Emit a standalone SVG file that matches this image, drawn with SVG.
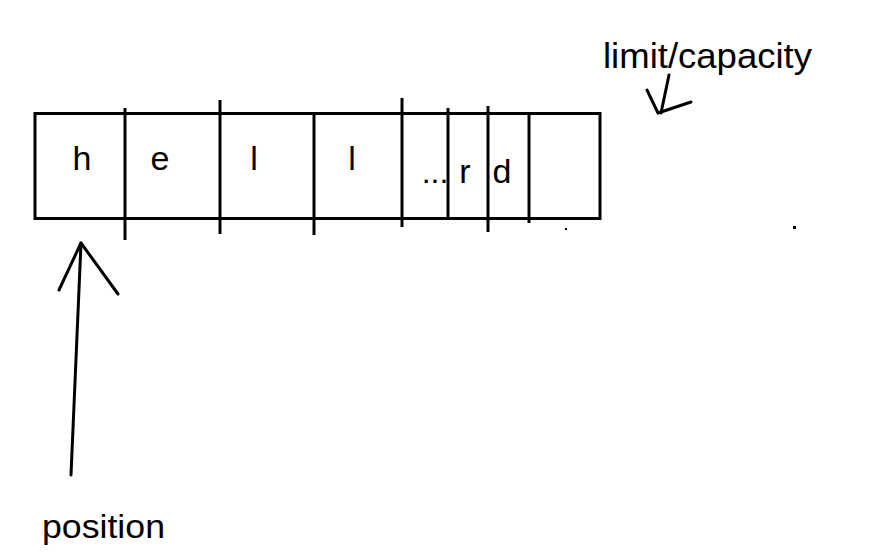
<svg xmlns="http://www.w3.org/2000/svg" width="870" height="554" viewBox="0 0 870 554">
<style>
.ln{stroke:#000;stroke-width:3;fill:none;stroke-linecap:butt}
.ar{stroke:#000;stroke-width:3;fill:none;stroke-linecap:round;stroke-linejoin:round}
.t{font-family:"Liberation Sans","DejaVu Sans",sans-serif;fill:#000}
</style>
<rect width="870" height="554" fill="#fff"/>
<g id="buffer">
<rect class="ln" x="35" y="113.5" width="565" height="105"/>
<line class="ln" x1="125" y1="108" x2="125" y2="240"/>
<line class="ln" x1="220" y1="100" x2="220" y2="234"/>
<line class="ln" x1="314" y1="113" x2="314" y2="235"/>
<line class="ln" x1="402" y1="98" x2="402" y2="227"/>
<line class="ln" x1="448" y1="108" x2="448" y2="218"/>
<line class="ln" x1="488" y1="106" x2="488" y2="232"/>
<line class="ln" x1="529" y1="113" x2="529" y2="223"/>
<rect x="565" y="228" width="2" height="2" fill="#000"/>
<rect x="793" y="226" width="3" height="3" fill="#000"/>
</g>
<g id="cells" class="t" font-size="34" text-anchor="middle">
<text x="82" y="170">h</text>
<text x="160" y="170">e</text>
<text x="254" y="170">l</text>
<text x="352" y="170">l</text>
<text x="435" y="183" font-size="32">...</text>
<text x="465" y="183">r</text>
<text x="502" y="183">d</text>
</g>
<g id="limit-label">
<text class="t" x="603" y="68" font-size="35" textLength="209" lengthAdjust="spacingAndGlyphs">limit/capacity</text>
</g>
<g id="position-label">
<text class="t" x="42" y="538" font-size="33" textLength="123" lengthAdjust="spacingAndGlyphs">position</text>
</g>
<g id="connectors">
<path class="ar" d="M71 475 L81 243"/>
<path class="ar" d="M59 290 L81 243 L118 294"/>
<path class="ar" d="M669 75 L661 113"/>
<path class="ar" d="M647 90 L658 113 L691 102"/>
</g>
</svg>
